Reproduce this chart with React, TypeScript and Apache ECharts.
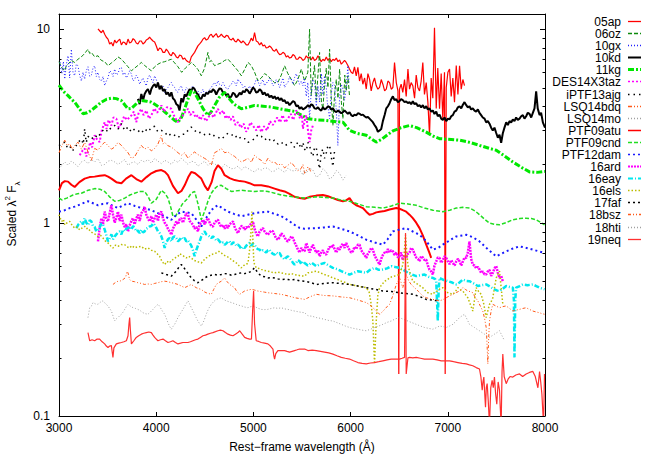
import React, { useEffect, useRef } from "react";
import * as echarts from "echarts";

// ---------------- data (wavelength in Å, scaled flux) ----------------
const names = ["05ap", "06oz", "10gx", "10kd", "11kg", "DES14X3taz", "iPTF13ajg", "LSQ14bdq", "LSQ14mo", "PTF09atu", "PTF09cnd", "PTF12dam", "16ard", "16eay", "16els", "17faf", "18bsz", "18hti", "19neq"];
const xTicks = [3000, 4000, 5000, 6000, 7000, 8000];
const yMajorTicks = [0.1, 1, 10];
const yMajorLabels = ["0.1", "1", "10"];
const yMinorTicks = [0.2, 0.3, 0.4, 0.5, 0.6, 0.7, 0.8, 0.9, 2, 3, 4, 5, 6, 7, 8, 9];

const d05ap = [[3401,10.05],[3420,9.8],[3436,9.6],[3453,9.9],[3470,9.43],[3487,9.1],[3504,8.9],[3521,8.4],[3539,8.54],[3556,8.2],[3573,8.8],[3590,8.5],[3607,8.71],[3625,8.9],[3642,8.3],[3659,8.6],[3676,8.54],[3693,8.3],[3710,8.9],[3727,8.5],[3745,8.6],[3762,8.95],[3778,8.81],[3795,8.5],[3812,8.4],[3830,8.7],[3847,8.7],[3864,8.4],[3881,8.54],[3898,8.8],[3915,8.9],[3932,9.1],[3950,8.88],[3967,8.7],[3984,8.6],[4001,8.2],[4018,7.75],[4035,8.0],[4053,7.9],[4070,7.6],[4087,7.59],[4104,7.9],[4121,7.7],[4139,7.4],[4156,7.3],[4172,7.6],[4190,7.44],[4207,7.2],[4224,7.1],[4241,7.35],[4259,7.3],[4275,7.01],[4293,7.1],[4310,6.9],[4327,6.8],[4344,6.74],[4361,7.2],[4378,7.4],[4395,7.6],[4412,7.9],[4429,8.21],[4447,8.4],[4464,8.6],[4481,8.9],[4498,9.06],[4515,8.8],[4532,8.9],[4550,9.3],[4567,9.43],[4584,9.1],[4601,9.3],[4618,9.5],[4635,9.1],[4652,9.2],[4670,9.43],[4687,9.2],[4704,9.06],[4721,9.3],[4738,9.25],[4755,8.9],[4773,8.8],[4790,9.0],[4807,8.71],[4824,8.6],[4841,8.9],[4859,8.7],[4876,8.5],[4893,8.7],[4910,8.54],[4927,8.3],[4944,8.3],[4961,8.6],[4978,9.0],[4995,8.7],[5012,9.6],[5029,8.7],[5046,8.6],[5064,8.3],[5081,8.54],[5098,8.2],[5115,8.3],[5132,8.0],[5149,8.05],[5166,8.2],[5184,8.05],[5201,7.8],[5218,7.7],[5235,7.9],[5252,7.6],[5270,7.4],[5287,7.44],[5304,7.6],[5321,7.5],[5338,7.2],[5355,7.3],[5372,7.1],[5390,7.16],[5407,7.4],[5424,7.3],[5441,7.0],[5458,7.01],[5475,7.2],[5493,7.1],[5510,6.9],[5527,7.01],[5544,7.3],[5561,7.1],[5578,7.16],[5595,6.95],[5612,7.2],[5629,6.9],[5647,7.0],[5664,7.3],[5681,7.05],[5698,6.8],[5715,7.0],[5732,6.88],[5750,7.2],[5767,6.9],[5784,7.1],[5801,6.8],[5818,7.0],[5835,6.9],[5853,7.1],[5870,6.8],[5887,6.95],[5904,6.6],[5921,6.74],[5938,6.9],[5955,6.74],[5972,6.5],[5989,6.23],[6006,6.0],[6023,5.9],[6040,6.4],[6058,5.75],[6075,6.35],[6092,5.4],[6109,5.9],[6126,5.2],[6144,5.6],[6161,4.91],[6178,5.9],[6195,5.53],[6212,4.8],[6229,5.3],[6246,5.6],[6264,5.1],[6281,4.9],[6298,5.01],[6315,5.5],[6332,5.2],[6350,4.8],[6367,4.9],[6384,5.4],[6401,5.3],[6418,4.9],[6435,5.0],[6452,6.74],[6470,5.3],[6487,4.8],[6496,0.165],[6503,4.9],[6520,5.2],[6537,4.72],[6555,5.5],[6572,4.5],[6590,6.23],[6606,4.9],[6623,5.3],[6640,5.11],[6658,4.4],[6675,5.8],[6692,5.0],[6709,4.8],[6726,5.4],[6743,6.74],[6760,4.6],[6778,5.3],[6795,4.2],[6812,2.83],[6829,5.6],[6846,4.4],[6863,10.2],[6881,3.9],[6897,6.3],[6915,3.88],[6932,5.9],[6949,3.4],[6966,6.0],[6973,0.165],[6984,5.0],[7001,6.0],[7018,6.23],[7035,4.5],[7052,5.6],[7069,4.2],[7087,6.5],[7104,4.6],[7121,6.48],[7138,4.9],[7155,5.5],[7172,5.11]];

const d06oz = [[3000,6.8],[3030,6.3],[3059,6.1],[3076,6.5],[3093,6.6],[3127,6.9],[3161,6.74],[3195,7.0],[3230,7.2],[3264,7.5],[3298,7.89],[3316,7.5],[3333,7.6],[3367,7.2],[3401,7.3],[3436,6.9],[3470,6.8],[3504,6.48],[3539,6.7],[3573,6.9],[3607,7.2],[3642,7.01],[3676,6.7],[3710,6.4],[3745,6.1],[3778,6.3],[3812,6.5],[3847,6.74],[3881,6.5],[3915,6.3],[3950,6.1],[3984,6.4],[4018,6.6],[4053,6.74],[4087,6.8],[4121,6.9],[4156,7.01],[4190,6.7],[4224,6.4],[4262,5.99],[4300,6.3],[4330,6.5],[4361,6.74],[4395,6.5],[4429,6.2],[4464,5.75],[4498,6.3],[4532,7.59],[4550,6.8],[4567,6.9],[4601,6.48],[4635,6.6],[4670,6.7],[4704,6.9],[4738,7.01],[4773,6.7],[4807,6.4],[4841,6.1],[4876,5.75],[4910,6.2],[4944,6.74],[4978,6.5],[5012,6.0],[5046,5.42],[5081,5.6],[5115,5.9],[5149,5.75],[5184,5.5],[5218,5.3],[5252,5.31],[5287,5.8],[5321,6.48],[5355,5.9],[5390,5.5],[5424,5.11],[5458,5.5],[5493,6.23],[5527,5.4],[5560,6.0],[5578,10.0],[5595,4.54],[5612,5.6],[5629,6.5],[5647,4.3],[5664,5.8],[5681,7.59],[5700,4.2],[5715,3.88],[5732,5.2],[5750,6.3],[5767,5.0],[5784,7.89],[5800,4.5],[5818,3.18],[5835,4.6],[5853,5.5],[5870,4.4],[5887,6.23],[5905,4.2],[5921,3.45],[5940,5.8],[5955,4.8],[5972,5.75],[5989,4.5]];

const d10gx = [[3007,7.01],[3020,6.2],[3030,5.9],[3045,6.8],[3059,5.53],[3076,6.6],[3093,7.3],[3110,5.6],[3127,7.89],[3144,6.0],[3161,5.75],[3178,6.6],[3195,6.48],[3212,5.8],[3230,5.4],[3247,6.0],[3264,5.53],[3281,6.1],[3298,6.4],[3316,5.7],[3333,5.8],[3350,6.3],[3367,6.48],[3384,5.7],[3401,5.99],[3418,5.5],[3436,5.4],[3453,5.7],[3470,5.11],[3487,5.4],[3504,5.6],[3521,6.1],[3539,6.0],[3556,5.7],[3573,6.23],[3590,5.8],[3607,5.9],[3625,6.3],[3642,6.35],[3659,5.8],[3676,6.0],[3693,5.6],[3710,5.8],[3727,6.1],[3745,5.87],[3762,5.4],[3778,5.5],[3795,5.8],[3812,5.6],[3830,5.2],[3847,5.42],[3864,5.6],[3881,5.31],[3898,5.1],[3915,5.6],[3932,5.8],[3950,5.53],[3967,5.3],[3984,5.75],[4001,5.5],[4018,5.2],[4035,5.0],[4053,4.9],[4070,5.1],[4087,4.72],[4104,4.9],[4121,5.0],[4139,5.2],[4156,5.31],[4172,5.1],[4190,5.0],[4207,4.8],[4224,4.72],[4241,5.0],[4259,5.1],[4275,4.8],[4293,4.72],[4310,5.0],[4327,4.9],[4344,4.7],[4361,5.0],[4378,5.1],[4395,4.91],[4412,4.7],[4429,4.8],[4447,4.6],[4464,4.72],[4481,4.9],[4498,4.6],[4515,4.75],[4532,4.72],[4550,4.9],[4567,5.0],[4584,5.2],[4601,5.3],[4618,5.1],[4635,5.42],[4652,5.2],[4670,5.1],[4687,5.3],[4704,5.11],[4721,4.95],[4738,4.9],[4755,5.1],[4773,5.2],[4790,5.4],[4807,5.31],[4824,5.1],[4841,5.53],[4859,5.3],[4876,5.3],[4893,5.0],[4910,5.1],[4927,4.8],[4944,4.91],[4961,5.1],[4978,4.8],[4995,5.0],[5012,5.2],[5029,5.5],[5046,5.42],[5064,5.1],[5081,5.3],[5098,5.5],[5115,5.1],[5132,5.3],[5149,5.31],[5166,5.6],[5184,5.42],[5201,5.1],[5218,5.2],[5235,5.5],[5252,5.3],[5270,5.0],[5287,5.31],[5304,5.6],[5321,5.0],[5338,5.2],[5355,5.3],[5372,5.7],[5390,5.53],[5407,5.2],[5424,5.64],[5441,5.9],[5458,5.5],[5475,5.2],[5493,5.4],[5509,5.11],[5525,5.6],[5544,4.5],[5560,5.3],[5578,3.45],[5595,4.8],[5612,5.5],[5629,5.31],[5647,4.0],[5664,5.1],[5681,4.2],[5700,5.9],[5715,4.6],[5732,5.75],[5750,5.0],[5760,4.2],[5784,3.45],[5800,4.6],[5818,5.3],[5835,5.11],[5853,3.8],[5869,2.51],[5887,4.5],[5904,5.2],[5921,4.91],[5938,4.3],[5955,5.0],[5972,6.48],[5985,5.2]];

const d10kd = [[3812,4.37],[3830,4.1],[3847,4.63],[3865,4.3],[3881,4.63],[3898,4.8],[3915,4.91],[3935,4.6],[3950,4.91],[3967,5.1],[3984,5.2],[4001,5.0],[4018,5.31],[4035,4.9],[4053,5.11],[4070,4.8],[4087,4.9],[4104,4.6],[4121,4.72],[4139,4.5],[4156,4.72],[4172,4.4],[4190,4.3],[4207,4.1],[4224,4.04],[4240,3.8],[4259,4.4],[4275,4.2],[4293,4.6],[4310,4.5],[4327,4.72],[4344,4.9],[4361,4.8],[4378,5.0],[4395,4.91],[4412,4.7],[4429,4.6],[4447,4.4],[4464,4.37],[4481,4.6],[4498,4.5],[4515,4.7],[4532,4.63],[4550,4.8],[4567,4.72],[4584,4.9],[4601,4.81],[4618,4.6],[4635,4.8],[4652,4.95],[4670,4.91],[4687,4.7],[4704,4.72],[4721,4.55],[4738,4.63],[4755,4.4],[4773,4.5],[4790,4.7],[4807,4.63],[4824,4.45],[4841,4.54],[4859,4.7],[4876,4.6],[4893,4.8],[4910,4.72],[4927,4.9],[4944,4.81],[4961,4.65],[4978,4.8],[4995,5.0],[5012,4.91],[5029,4.7],[5046,4.75],[5064,4.9],[5081,4.81],[5098,4.6],[5115,4.72],[5132,4.55],[5149,4.63],[5166,4.45],[5184,4.54],[5201,4.4],[5218,4.5],[5235,4.35],[5252,4.45],[5270,4.3],[5287,4.4],[5304,4.25],[5321,4.3],[5338,4.15],[5355,4.2],[5372,4.05],[5390,4.15],[5407,4.25],[5424,4.2],[5441,4.0],[5458,4.04],[5475,3.88],[5493,3.96],[5510,3.85],[5527,3.9],[5544,3.96],[5561,4.05],[5578,3.96],[5595,4.1],[5612,4.04],[5629,3.9],[5647,3.88],[5664,3.95],[5681,3.85],[5698,3.8],[5715,3.96],[5732,3.85],[5750,3.9],[5767,4.0],[5784,3.96],[5801,3.85],[5818,3.9],[5835,3.78],[5853,3.73],[5870,3.8],[5887,3.75],[5904,3.68],[5921,3.73],[5938,3.8],[5955,3.73],[5972,3.65],[5989,3.73],[6006,3.6],[6023,3.55],[6040,3.62],[6058,3.59],[6075,3.68],[6092,3.66],[6109,3.6],[6126,3.62],[6144,3.55],[6161,3.5],[6178,3.52],[6195,3.45],[6212,3.38],[6229,3.31],[6246,3.2],[6264,3.1],[6281,2.95],[6298,3.0],[6315,3.05],[6332,3.35],[6350,3.6],[6367,3.9],[6384,4.0],[6401,4.15],[6418,4.35],[6435,4.5],[6452,4.3],[6470,4.35],[6487,4.2],[6503,4.25],[6520,4.35],[6537,4.3],[6555,4.2],[6572,4.24],[6589,4.15],[6606,4.2],[6623,4.1],[6640,4.24],[6658,4.1],[6675,4.15],[6692,4.0],[6709,4.05],[6726,3.95],[6743,4.05],[6760,3.9],[6778,4.0],[6795,3.85],[6812,3.9],[6829,3.75],[6846,3.8],[6863,3.65],[6881,3.75],[6897,3.55],[6915,3.62],[6932,3.45],[6949,3.4],[6966,3.5],[6984,3.35],[7001,3.45],[7018,3.42],[7035,3.55],[7052,3.6],[7069,3.75],[7087,3.8],[7104,3.95],[7121,4.0],[7138,3.9],[7155,4.07],[7172,4.2],[7190,4.05],[7206,3.95],[7223,4.0],[7240,3.85],[7257,3.9],[7275,3.8],[7292,3.75],[7309,3.85],[7326,3.7],[7343,3.6],[7360,3.5],[7378,3.45],[7395,3.3],[7412,3.35],[7429,3.25],[7446,3.1],[7463,3.0],[7480,3.1],[7498,2.91],[7515,2.75],[7532,2.85],[7549,2.59],[7566,2.9],[7583,3.1],[7601,3.3],[7618,3.2],[7635,3.35],[7652,3.3],[7669,3.42],[7686,3.35],[7703,3.5],[7720,3.4],[7738,3.45],[7755,3.55],[7772,3.6],[7789,3.45],[7806,3.55],[7823,3.7],[7841,3.65],[7858,3.5],[7875,3.7],[7892,3.9],[7909,4.77],[7925,3.9],[7944,3.6],[7960,3.7],[7978,3.3],[8000,3.1]];

const d11kg = [[3000,5.15],[3030,4.9],[3060,4.7],[3093,4.54],[3127,4.35],[3161,4.2],[3200,3.95],[3247,3.66],[3290,3.7],[3333,3.81],[3385,4.0],[3436,4.2],[3490,4.35],[3539,4.4],[3590,4.38],[3642,4.28],[3680,4.05],[3710,3.88],[3745,3.9],[3778,4.04],[3812,4.2],[3847,4.28],[3900,4.25],[3950,4.2],[4000,4.05],[4053,3.88],[4105,3.68],[4156,3.5],[4190,3.38],[4224,3.31],[4260,3.5],[4293,3.88],[4330,4.4],[4361,4.81],[4395,4.7],[4429,4.37],[4480,3.9],[4532,3.59],[4567,3.75],[4601,4.04],[4650,4.45],[4704,4.72],[4738,4.45],[4800,4.1],[4876,3.88],[4944,3.95],[5012,4.04],[5100,4.0],[5184,3.96],[5270,3.88],[5355,3.81],[5424,3.76],[5493,3.6],[5560,3.45],[5650,3.4],[5750,3.38],[5850,3.33],[5921,3.31],[5989,3.0],[6060,2.9],[6161,2.83],[6210,2.72],[6264,2.61],[6320,2.7],[6380,2.85],[6435,2.98],[6520,3.1],[6606,3.18],[6680,3.1],[6778,2.94],[6850,2.8],[6915,2.72],[7000,2.7],[7121,2.67],[7230,2.6],[7326,2.51],[7429,2.42],[7498,2.37],[7580,2.22],[7669,2.06],[7760,1.93],[7841,1.83],[7920,1.82],[8000,1.84]];

const dDES14X3taz = [[3213,2.23],[3240,2.35],[3264,2.42],[3281,2.2],[3298,2.32],[3320,2.6],[3340,2.45],[3367,2.83],[3390,2.7],[3418,2.61],[3440,3.0],[3470,3.31],[3490,3.05],[3510,3.4],[3539,3.18],[3560,3.5],[3590,3.45],[3615,3.1],[3642,3.25],[3670,3.55],[3700,3.4],[3745,3.59],[3770,3.75],[3795,3.31],[3820,3.7],[3847,3.88],[3870,3.6],[3900,3.8],[3925,3.45],[3950,3.59],[3980,3.9],[4010,3.7],[4053,4.04],[4080,3.75],[4110,3.95],[4156,3.88],[4180,3.6],[4200,3.45],[4224,3.31],[4250,3.5],[4275,3.59],[4300,3.75],[4327,3.88],[4350,3.6],[4380,3.75],[4405,3.5],[4429,3.59],[4455,3.4],[4480,3.6],[4510,3.35],[4532,3.45],[4560,3.7],[4590,3.5],[4635,3.88],[4660,3.65],[4690,3.8],[4715,3.45],[4738,3.59],[4765,3.4],[4790,3.55],[4815,3.2],[4841,3.31],[4870,3.1],[4900,3.25],[4925,2.95],[4944,3.06],[4970,3.3],[5000,3.15],[5030,3.0],[5055,3.2],[5081,2.94],[5110,3.15],[5140,3.0],[5170,3.35],[5200,3.2],[5218,3.31],[5245,3.5],[5275,3.3],[5300,3.6],[5330,3.3],[5355,3.45],[5385,3.65],[5410,3.4],[5440,3.8],[5458,3.73],[5480,3.45],[5500,3.6],[5509,3.06],[5530,3.4],[5544,3.6],[5565,2.9],[5578,2.61],[5595,3.0],[5612,3.18]];

const diPTF13ajg = [[3000,2.5],[3030,2.56],[3059,2.61],[3085,2.45],[3110,2.5],[3135,2.35],[3161,2.42],[3195,2.6],[3230,2.7],[3250,2.55],[3264,3.06],[3280,2.6],[3298,2.8],[3333,2.7],[3367,2.83],[3400,2.75],[3436,2.95],[3470,3.06],[3505,2.95],[3539,3.12],[3573,3.18],[3607,3.05],[3642,3.25],[3676,3.0],[3710,3.12],[3745,2.94],[3778,3.05],[3812,3.0],[3847,2.9],[3881,3.06],[3915,2.95],[3950,3.1],[3984,3.15],[4018,2.95],[4053,3.0],[4087,2.94],[4121,2.8],[4156,2.89],[4190,2.83],[4224,2.75],[4259,2.86],[4293,2.87],[4327,3.0],[4361,3.12],[4395,3.0],[4429,2.9],[4464,2.94],[4498,2.85],[4532,2.83],[4567,2.9],[4601,2.8],[4635,2.77],[4670,2.7],[4704,2.8],[4738,2.9],[4773,2.87],[4807,2.75],[4841,2.83],[4876,2.7],[4910,2.72],[4944,2.6],[4978,2.65],[5012,2.72],[5046,2.85],[5081,2.8],[5115,2.68],[5149,2.75],[5184,2.62],[5218,2.67],[5252,2.55],[5287,2.61],[5321,2.5],[5355,2.55],[5390,2.6],[5424,2.45],[5458,2.61],[5493,2.42],[5509,2.6],[5527,2.4],[5544,2.35],[5561,2.6],[5578,2.5],[5595,2.3],[5612,2.2],[5629,2.45],[5647,2.45],[5664,2.1],[5681,1.9],[5698,2.3],[5715,2.4],[5732,2.15],[5750,2.3],[5767,2.5],[5784,2.5],[5801,2.2],[5818,1.95],[5835,2.35],[5853,2.3]];

const dLSQ14bdq = [[3000,2.3],[3030,2.5],[3059,2.67],[3085,2.5],[3110,2.56],[3135,2.4],[3161,2.5],[3195,2.61],[3230,2.4],[3264,2.6],[3298,2.32],[3333,2.1],[3367,2.42],[3401,2.37],[3436,2.5],[3470,2.61],[3504,2.5],[3539,2.4],[3573,2.46],[3607,2.6],[3642,2.51],[3676,2.4],[3710,2.3],[3745,2.15],[3778,2.19],[3812,2.35],[3847,2.51],[3881,2.4],[3915,2.46],[3950,2.35],[3984,2.42],[4018,2.55],[4053,2.83],[4070,2.55],[4087,2.6],[4121,2.5],[4156,2.46],[4190,2.38],[4224,2.3],[4259,2.23],[4293,2.3],[4327,2.15],[4361,2.25],[4395,2.32],[4429,2.25],[4464,2.2],[4498,2.15],[4532,2.1],[4567,1.98],[4601,2.3],[4635,2.35],[4670,2.42],[4704,2.3],[4738,2.32],[4773,2.25],[4807,2.2],[4841,2.12],[4876,2.06],[4910,2.1],[4944,2.15],[4978,2.05],[5012,2.23],[5046,2.15],[5081,2.1],[5115,2.0],[5149,2.15],[5184,2.05],[5218,2.06],[5252,1.98],[5287,2.02],[5321,1.92],[5355,1.98],[5390,2.05],[5424,1.95],[5458,1.85],[5493,1.91],[5510,2.0],[5527,1.8],[5544,1.85],[5561,1.95],[5578,1.9],[5595,1.8]];

const dLSQ14mo = [[3000,1.9],[3030,1.98],[3059,2.06],[3093,1.98],[3127,2.08],[3161,2.02],[3195,1.95],[3230,2.06],[3264,2.1],[3298,2.02],[3333,2.12],[3367,2.06],[3401,2.15],[3436,1.98],[3470,2.0],[3504,2.08],[3539,2.1],[3573,2.06],[3607,2.0],[3642,2.06],[3676,2.12],[3710,1.98],[3745,2.04],[3778,2.06],[3812,2.0],[3847,2.1],[3881,2.06],[3915,2.12],[3950,2.03],[3984,2.15],[4018,2.08],[4053,2.02],[4087,2.1],[4121,2.06],[4156,2.0],[4190,2.1],[4224,2.05],[4259,2.15],[4293,2.08],[4327,2.0],[4361,2.08],[4395,2.06],[4429,1.96],[4464,2.02],[4498,2.08],[4532,1.98],[4567,2.04],[4601,2.02],[4635,1.95],[4670,1.91],[4704,2.0],[4738,1.95],[4773,1.9],[4807,1.91],[4841,1.96],[4876,1.87],[4910,1.95],[4944,1.91],[4978,1.86],[5012,1.83],[5046,1.9],[5081,1.87],[5115,1.92],[5149,1.91],[5184,1.84],[5218,1.85],[5252,1.92],[5287,1.87],[5321,1.82],[5355,1.91],[5390,1.86],[5424,1.85],[5458,1.9],[5493,1.83],[5510,1.76],[5527,1.86],[5544,1.8],[5578,1.92],[5612,1.87],[5647,1.72],[5681,1.76],[5715,1.9],[5750,1.83],[5784,1.68],[5818,1.73],[5853,1.86],[5887,1.8],[5921,1.66],[5955,1.76]];

const dPTF09atu = [[3000,1.47],[3030,1.6],[3060,1.64],[3093,1.63],[3127,1.57],[3161,1.53],[3210,1.62],[3264,1.69],[3315,1.72],[3367,1.73],[3420,1.75],[3470,1.76],[3505,1.73],[3539,1.69],[3590,1.62],[3642,1.6],[3690,1.69],[3745,1.76],[3795,1.68],[3847,1.63],[3900,1.72],[3950,1.8],[4000,1.85],[4053,1.87],[4090,1.83],[4121,1.76],[4172,1.55],[4224,1.42],[4260,1.46],[4293,1.56],[4330,1.72],[4361,1.83],[4400,1.8],[4464,1.69],[4500,1.55],[4532,1.47],[4570,1.62],[4600,1.85],[4635,1.98],[4670,1.9],[4704,1.76],[4755,1.7],[4807,1.66],[4860,1.64],[4910,1.63],[4960,1.6],[5012,1.56],[5081,1.56],[5149,1.54],[5218,1.5],[5270,1.47],[5321,1.45],[5372,1.41],[5424,1.36],[5475,1.34],[5527,1.33],[5578,1.36],[5647,1.38],[5715,1.39],[5767,1.37],[5818,1.34],[5870,1.31],[5921,1.29],[5950,1.3],[5989,1.34],[6020,1.27],[6058,1.23],[6092,1.21],[6126,1.19],[6161,1.14],[6195,1.1],[6229,1.11],[6264,1.13],[6298,1.14],[6350,1.15],[6401,1.17],[6470,1.19],[6503,1.18],[6537,1.16],[6572,1.14],[6606,1.1],[6640,1.055],[6675,1.0],[6709,0.937],[6743,0.86],[6778,0.769],[6810,0.7],[6829,0.657]];

const dPTF09cnd = [[3000,1.34],[3030,1.31],[3080,1.34],[3144,1.39],[3190,1.41],[3230,1.42],[3300,1.47],[3367,1.5],[3420,1.49],[3470,1.45],[3520,1.36],[3573,1.29],[3620,1.3],[3676,1.34],[3730,1.39],[3778,1.42],[3830,1.45],[3881,1.45],[3915,1.37],[3950,1.26],[4000,1.32],[4053,1.47],[4090,1.42],[4121,1.34],[4150,1.2],[4172,1.08],[4200,1.08],[4224,1.14],[4270,1.25],[4327,1.34],[4360,1.42],[4395,1.45],[4430,1.25],[4464,1.035],[4500,1.15],[4532,1.29],[4567,1.42],[4601,1.5],[4635,1.55],[4670,1.56],[4720,1.5],[4773,1.45],[4820,1.46],[4876,1.47],[4944,1.46],[5012,1.45],[5080,1.46],[5149,1.45],[5220,1.42],[5287,1.39],[5355,1.37],[5424,1.36],[5475,1.35],[5527,1.34],[5590,1.35],[5647,1.36],[5730,1.35],[5818,1.34],[5900,1.31],[5989,1.29],[6075,1.25],[6161,1.21],[6250,1.2],[6332,1.19],[6420,1.22],[6503,1.26],[6590,1.25],[6675,1.23],[6760,1.19],[6846,1.16],[6949,1.14],[7020,1.16],[7087,1.19],[7155,1.2],[7223,1.19],[7280,1.15],[7326,1.1],[7380,1.04],[7429,0.994],[7480,0.98],[7532,0.974],[7600,1.0],[7669,1.035],[7740,1.05],[7806,1.055],[7860,1.05],[7909,1.035],[7960,1.0],[7995,0.974]];

const dPTF12dam = [[3000,1.14],[3059,1.16],[3110,1.19],[3161,1.21],[3230,1.25],[3298,1.29],[3350,1.26],[3401,1.23],[3450,1.25],[3504,1.26],[3555,1.22],[3607,1.19],[3660,1.23],[3710,1.26],[3780,1.22],[3847,1.19],[3900,1.18],[3950,1.16],[4000,1.13],[4053,1.1],[4100,1.07],[4156,1.035],[4210,1.1],[4259,1.14],[4310,1.13],[4361,1.12],[4410,1.04],[4464,0.956],[4510,1.05],[4567,1.16],[4600,1.2],[4635,1.23],[4690,1.18],[4738,1.14],[4800,1.11],[4876,1.08],[4944,1.1],[5012,1.12],[5080,1.13],[5149,1.14],[5220,1.11],[5287,1.08],[5355,1.03],[5424,0.974],[5475,0.94],[5527,0.93],[5590,0.935],[5647,0.937],[5730,0.945],[5818,0.956],[5900,0.93],[5989,0.901],[6075,0.86],[6161,0.816],[6250,0.79],[6332,0.769],[6380,0.82],[6435,0.901],[6500,0.92],[6572,0.937],[6640,0.9],[6709,0.866],[6780,0.8],[6846,0.725],[6900,0.74],[6949,0.769],[7020,0.81],[7087,0.849],[7190,0.866],[7260,0.84],[7326,0.8],[7410,0.73],[7498,0.67],[7550,0.69],[7601,0.711],[7670,0.735],[7738,0.754],[7810,0.74],[7875,0.725],[7940,0.71],[7995,0.697]];

const d16ard = [[3401,0.8],[3420,0.95],[3436,1.055],[3453,0.98],[3470,1.14],[3487,1.05],[3504,1.015],[3521,1.12],[3539,1.23],[3556,1.1],[3573,1.0],[3590,1.055],[3607,1.14],[3625,1.02],[3642,1.1],[3659,1.0],[3676,0.95],[3693,0.98],[3710,0.901],[3727,0.97],[3745,1.02],[3760,1.055],[3778,0.98],[3795,1.05],[3812,1.1],[3830,1.02],[3847,1.12],[3864,1.15],[3881,1.21],[3898,1.1],[3915,1.05],[3932,1.015],[3950,1.08],[3967,1.0],[3984,1.055],[4001,1.1],[4018,1.02],[4035,1.12],[4053,1.14],[4070,1.05],[4087,1.0],[4104,0.974],[4121,0.93],[4139,0.9],[4156,0.866],[4172,0.93],[4190,0.97],[4207,1.015],[4224,0.98],[4241,1.04],[4259,1.055],[4275,1.0],[4293,1.06],[4310,1.12],[4327,1.1],[4344,1.02],[4361,1.0],[4378,0.974],[4395,0.93],[4412,0.95],[4429,0.901],[4447,0.98],[4464,1.0],[4481,1.035],[4498,0.98],[4515,1.02],[4532,1.055],[4550,1.0],[4567,0.96],[4584,0.956],[4601,1.0],[4618,1.02],[4635,1.035],[4652,0.98],[4670,0.95],[4687,0.974],[4704,0.93],[4721,0.97],[4738,0.937],[4755,0.98],[4773,1.0],[4790,1.015],[4807,0.95],[4824,0.91],[4841,0.883],[4859,0.93],[4876,0.96],[4893,0.956],[4910,0.92],[4927,0.95],[4944,0.937],[4961,0.97],[4978,0.99],[4995,1.015],[5012,0.93],[5029,0.88],[5046,0.849],[5064,0.9],[5081,0.92],[5098,0.937],[5115,0.9],[5132,0.88],[5149,0.866],[5166,0.89],[5184,0.91],[5201,0.901],[5218,0.86],[5235,0.83],[5252,0.816],[5270,0.84],[5287,0.88],[5304,0.866],[5321,0.84],[5338,0.81],[5355,0.8],[5372,0.82],[5390,0.85],[5407,0.832],[5424,0.79],[5441,0.76],[5458,0.725],[5475,0.7],[5493,0.74],[5510,0.72],[5527,0.711],[5544,0.785],[5561,0.74],[5578,0.7],[5595,0.74],[5612,0.769],[5629,0.73],[5647,0.7],[5664,0.72],[5681,0.67],[5698,0.7],[5715,0.72],[5732,0.69],[5750,0.683],[5767,0.72],[5784,0.75],[5801,0.74],[5818,0.769],[5835,0.73],[5853,0.7],[5870,0.74],[5887,0.725],[5904,0.76],[5921,0.78],[5938,0.74],[5955,0.785],[5972,0.75],[5989,0.72],[6006,0.7],[6023,0.711],[6040,0.75],[6058,0.73],[6075,0.77],[6092,0.769],[6109,0.72],[6126,0.7],[6144,0.68],[6161,0.657],[6178,0.69],[6195,0.71],[6212,0.74],[6229,0.725],[6246,0.68],[6264,0.65],[6281,0.63],[6298,0.607],[6315,0.65],[6332,0.68],[6350,0.7],[6367,0.697],[6384,0.73],[6401,0.7],[6418,0.72],[6435,0.711],[6452,0.68],[6470,0.7],[6487,0.66],[6503,0.67],[6520,0.7],[6537,0.64],[6555,0.68],[6572,0.657],[6589,0.69],[6606,0.7],[6623,0.74],[6640,0.725],[6658,0.69],[6675,0.66],[6692,0.65],[6709,0.632],[6726,0.67],[6743,0.66],[6760,0.64],[6778,0.644],[6795,0.6],[6812,0.57],[6829,0.56],[6846,0.539],[6863,0.6],[6881,0.63],[6897,0.66],[6915,0.657],[6932,0.62],[6949,0.64],[6966,0.67],[6984,0.657],[7001,0.63],[7018,0.61],[7035,0.64],[7052,0.619],[7069,0.6],[7087,0.63],[7104,0.65],[7121,0.632],[7138,0.6],[7155,0.63],[7172,0.66],[7190,0.657],[7206,0.7],[7223,0.8],[7240,0.65],[7257,0.607],[7275,0.6],[7292,0.58],[7309,0.59],[7326,0.573],[7343,0.55],[7360,0.56],[7378,0.54],[7395,0.539],[7412,0.56],[7429,0.57],[7446,0.53],[7463,0.55],[7480,0.58],[7498,0.596],[7515,0.55],[7532,0.518],[7549,0.53],[7566,0.498]];

const d16eay = [[3179,0.937],[3200,0.98],[3230,1.015],[3247,0.98],[3264,1.055],[3281,1.0],[3300,0.97],[3316,1.03],[3333,1.015],[3350,0.96],[3367,0.95],[3384,0.9],[3401,0.918],[3420,0.95],[3436,0.99],[3453,0.974],[3470,0.92],[3487,0.86],[3504,0.8],[3521,0.83],[3539,0.87],[3556,0.82],[3573,0.849],[3590,0.87],[3607,0.89],[3625,0.901],[3642,0.87],[3659,0.92],[3676,0.901],[3693,0.93],[3710,0.94],[3727,0.956],[3745,0.92],[3762,0.96],[3778,0.937],[3795,0.9],[3812,0.91],[3830,0.883],[3847,0.92],[3864,0.89],[3881,0.901],[3898,0.93],[3915,0.94],[3932,0.956],[3950,0.96],[3967,0.99],[3984,0.974],[4001,0.94],[4018,0.9],[4035,0.883],[4053,0.85],[4070,0.8],[4087,0.74],[4104,0.79],[4121,0.82],[4139,0.832],[4156,0.8],[4172,0.84],[4190,0.849],[4207,0.83],[4224,0.8],[4241,0.816],[4259,0.84],[4275,0.82],[4293,0.832],[4310,0.8],[4327,0.81],[4344,0.785],[4361,0.76],[4378,0.72],[4395,0.67],[4412,0.72],[4429,0.76],[4447,0.8],[4464,0.85],[4481,0.88],[4498,0.901],[4515,0.87],[4532,0.86],[4550,0.849],[4567,0.83],[4584,0.85],[4601,0.832],[4618,0.81],[4635,0.82],[4652,0.8],[4670,0.78],[4687,0.79],[4704,0.769],[4721,0.78],[4738,0.8],[4755,0.8],[4773,0.77],[4790,0.79],[4807,0.785],[4824,0.76],[4841,0.77],[4859,0.754],[4876,0.73],[4893,0.75],[4910,0.74],[4927,0.76],[4944,0.78],[4961,0.785],[4978,0.76],[4995,0.78],[5012,0.769],[5029,0.74],[5046,0.73],[5064,0.725],[5081,0.71],[5098,0.72],[5115,0.711],[5132,0.7],[5149,0.72],[5166,0.725],[5184,0.7],[5201,0.69],[5218,0.683],[5235,0.7],[5252,0.69],[5270,0.697],[5287,0.67],[5304,0.66],[5321,0.644],[5338,0.66],[5355,0.67],[5372,0.657],[5390,0.64],[5407,0.62],[5424,0.607],[5441,0.62],[5458,0.64],[5475,0.632],[5493,0.61],[5510,0.63],[5527,0.619],[5560,0.6],[5600,0.62],[5647,0.596],[5690,0.61],[5732,0.619],[5775,0.6],[5818,0.584],[5860,0.575],[5904,0.561],[5945,0.55],[5989,0.539],[6030,0.55],[6075,0.561],[6120,0.555],[6161,0.55],[6200,0.57],[6246,0.584],[6290,0.57],[6332,0.573],[6375,0.58],[6418,0.596],[6460,0.59],[6503,0.584],[6545,0.57],[6589,0.55],[6630,0.54],[6675,0.529],[6718,0.535],[6760,0.539],[6803,0.525],[6846,0.518],[6870,0.51],[6881,0.498],[6897,0.31],[6906,0.45],[6915,0.518],[6960,0.505],[7001,0.498],[7045,0.49],[7087,0.479],[7120,0.49],[7155,0.508],[7190,0.5],[7223,0.498],[7265,0.485],[7309,0.47],[7350,0.475],[7395,0.479],[7440,0.465],[7480,0.452],[7510,0.445],[7532,0.443],[7565,0.455],[7601,0.47],[7635,0.465],[7669,0.461],[7680,0.4],[7686,0.201],[7694,0.4],[7703,0.461],[7740,0.47],[7772,0.479],[7820,0.475],[7875,0.479],[7910,0.47],[7944,0.461],[7995,0.452]];

const d16els = [[3000,1.1],[3015,1.05],[3030,1.015],[3045,1.04],[3059,0.974],[3085,1.0],[3110,1.015],[3135,0.97],[3161,0.937],[3187,0.95],[3213,0.918],[3240,0.94],[3264,0.956],[3281,0.93],[3298,0.937],[3325,0.9],[3350,0.883],[3375,0.87],[3401,0.849],[3427,0.86],[3453,0.832],[3480,0.8],[3504,0.785],[3530,0.76],[3555,0.74],[3580,0.765],[3607,0.754],[3640,0.77],[3676,0.769],[3700,0.75],[3727,0.74],[3750,0.76],[3778,0.74],[3810,0.75],[3847,0.754],[3880,0.73],[3915,0.74],[3950,0.72],[3984,0.711],[4010,0.69],[4035,0.67],[4060,0.63],[4087,0.607],[4110,0.63],[4139,0.619],[4155,0.64],[4172,0.644],[4200,0.66],[4224,0.67],[4240,0.69],[4259,0.683],[4285,0.67],[4310,0.657],[4335,0.67],[4361,0.657],[4385,0.64],[4412,0.632],[4440,0.625],[4464,0.619],[4490,0.64],[4515,0.657],[4540,0.67],[4567,0.683],[4590,0.69],[4618,0.697],[4645,0.71],[4670,0.697],[4695,0.68],[4721,0.67],[4748,0.66],[4773,0.644],[4800,0.63],[4824,0.619],[4850,0.6],[4876,0.584],[4900,0.6],[4927,0.607],[4945,0.62],[4961,0.725],[4975,0.9],[4985,1.14],[4995,0.8],[5005,0.62],[5029,0.584],[5055,0.58],[5081,0.573],[5115,0.565],[5149,0.561],[5184,0.555],[5218,0.55],[5252,0.555],[5287,0.55],[5320,0.545],[5355,0.539],[5390,0.545],[5424,0.539],[5458,0.535],[5493,0.53],[5527,0.529],[5561,0.55],[5605,0.555],[5647,0.561],[5690,0.55],[5732,0.539],[5775,0.53],[5818,0.518],[5860,0.51],[5904,0.498],[5945,0.49],[5989,0.479],[6030,0.475],[6075,0.47],[6118,0.465],[6161,0.461],[6190,0.44],[6212,0.378],[6229,0.31],[6246,0.186],[6256,0.25],[6264,0.31],[6280,0.42],[6298,0.461],[6325,0.48],[6350,0.498],[6375,0.505],[6401,0.518],[6425,0.525],[6452,0.529],[6478,0.535],[6503,0.539],[6520,0.57],[6537,0.607],[6552,0.7],[6565,0.866],[6578,0.7],[6589,0.607],[6610,0.55],[6640,0.498],[6665,0.49],[6692,0.479],[6718,0.47],[6743,0.461],[6770,0.445],[6795,0.434],[6820,0.43],[6846,0.426],[6870,0.44],[6897,0.443],[6920,0.455],[6949,0.461],[6975,0.445],[7001,0.434],[7025,0.43],[7052,0.426],[7078,0.44],[7104,0.461],[7130,0.45],[7155,0.443],[7180,0.425],[7206,0.409],[7230,0.38],[7257,0.349],[7275,0.4],[7292,0.461],[7318,0.44],[7343,0.426],[7370,0.38],[7395,0.323],[7412,0.35],[7429,0.378],[7446,0.39],[7463,0.409],[7480,0.46],[7498,0.518],[7515,0.54],[7532,0.561],[7549,0.461],[7566,0.378]];

const d17faf = [[4053,0.55],[4080,0.545],[4104,0.539],[4130,0.535],[4156,0.529],[4180,0.545],[4207,0.561],[4235,0.59],[4259,0.607],[4285,0.585],[4310,0.561],[4335,0.54],[4361,0.518],[4395,0.5],[4429,0.489],[4455,0.5],[4481,0.508],[4505,0.52],[4532,0.529],[4567,0.535],[4601,0.539],[4635,0.535],[4670,0.539],[4704,0.545],[4738,0.543],[4773,0.535],[4807,0.539],[4841,0.545],[4876,0.55],[4910,0.545],[4944,0.55],[4978,0.56],[5012,0.584],[5046,0.55],[5081,0.529],[5115,0.525],[5149,0.518],[5184,0.52],[5218,0.518],[5252,0.512],[5287,0.508],[5321,0.51],[5355,0.508],[5390,0.505],[5424,0.508],[5475,0.5],[5527,0.498],[5590,0.49],[5647,0.479],[5730,0.485],[5818,0.489],[5900,0.484],[5989,0.479],[6075,0.47],[6161,0.461],[6250,0.452],[6332,0.443],[6420,0.44],[6503,0.434],[6572,0.43],[6640,0.426],[6710,0.415],[6778,0.401],[6846,0.397],[6915,0.394]];

const d18bsz = [[3555,0.479],[3580,0.49],[3607,0.498],[3635,0.5],[3659,0.508],[3685,0.52],[3700,0.56],[3710,0.55],[3725,0.51],[3745,0.498],[3778,0.495],[3812,0.489],[3847,0.485],[3881,0.479],[3915,0.482],[3950,0.479],[3984,0.485],[4018,0.489],[4053,0.495],[4087,0.498],[4121,0.495],[4156,0.489],[4190,0.485],[4224,0.479],[4259,0.47],[4293,0.461],[4327,0.47],[4361,0.479],[4385,0.47],[4412,0.461],[4440,0.455],[4464,0.452],[4490,0.44],[4515,0.434],[4540,0.43],[4567,0.426],[4590,0.45],[4618,0.479],[4645,0.49],[4670,0.498],[4690,0.51],[4704,0.518],[4730,0.495],[4755,0.479],[4780,0.47],[4807,0.461],[4830,0.44],[4859,0.426],[4885,0.435],[4910,0.443],[4944,0.448],[4978,0.452],[5012,0.448],[5046,0.443],[5081,0.44],[5115,0.437],[5149,0.434],[5218,0.43],[5287,0.426],[5355,0.418],[5424,0.409],[5475,0.405],[5527,0.401],[5590,0.415],[5647,0.426],[5730,0.42],[5818,0.418],[5900,0.413],[5989,0.409],[6075,0.398],[6161,0.386],[6200,0.375],[6229,0.363],[6264,0.35],[6298,0.336],[6325,0.345],[6350,0.356],[6380,0.37],[6401,0.378],[6435,0.42],[6470,0.479],[6490,0.5],[6503,0.518],[6520,0.49],[6537,0.461],[6555,0.5],[6572,0.539],[6598,0.5],[6623,0.479],[6650,0.465],[6675,0.452],[6700,0.44],[6726,0.426],[6752,0.415],[6778,0.409],[6812,0.405],[6846,0.401],[6880,0.398],[6915,0.394],[6950,0.4],[6984,0.409],[7018,0.418],[7052,0.426],[7087,0.435],[7121,0.443],[7138,0.45],[7155,0.461],[7180,0.452],[7206,0.443],[7230,0.44],[7257,0.434],[7283,0.41],[7309,0.394],[7335,0.37],[7360,0.349],[7378,0.32],[7395,0.287],[7403,0.24],[7412,0.186],[7420,0.25],[7429,0.31],[7446,0.35],[7463,0.378],[7498,0.37],[7532,0.363],[7566,0.368],[7601,0.371],[7635,0.36],[7669,0.349],[7703,0.353],[7738,0.356],[7772,0.36],[7806,0.363],[7840,0.356],[7875,0.349],[7910,0.345],[7944,0.342],[7970,0.338],[7995,0.336]];

const d18hti = [[3298,0.323],[3316,0.363],[3333,0.37],[3350,0.386],[3375,0.38],[3401,0.378],[3427,0.388],[3453,0.394],[3480,0.38],[3504,0.371],[3520,0.36],[3539,0.349],[3555,0.33],[3573,0.31],[3590,0.318],[3607,0.323],[3625,0.33],[3642,0.336],[3660,0.345],[3676,0.356],[3693,0.368],[3710,0.378],[3735,0.37],[3762,0.363],[3787,0.36],[3812,0.356],[3838,0.35],[3864,0.342],[3890,0.338],[3915,0.336],[3940,0.345],[3967,0.356],[3992,0.368],[4018,0.378],[4035,0.37],[4053,0.356],[4070,0.345],[4087,0.336],[4104,0.32],[4121,0.304],[4139,0.29],[4156,0.281],[4172,0.29],[4190,0.298],[4207,0.31],[4224,0.323],[4250,0.34],[4275,0.356],[4300,0.375],[4327,0.394],[4344,0.38],[4361,0.363],[4378,0.35],[4395,0.336],[4412,0.322],[4429,0.31],[4447,0.3],[4464,0.292],[4490,0.31],[4515,0.336],[4540,0.36],[4567,0.378],[4590,0.39],[4618,0.401],[4645,0.405],[4670,0.409],[4695,0.4],[4721,0.394],[4748,0.39],[4773,0.386],[4800,0.382],[4824,0.378],[4850,0.374],[4876,0.371],[4910,0.366],[4944,0.363],[4975,0.368],[5002,0.371],[5040,0.362],[5081,0.356],[5115,0.355],[5149,0.356],[5184,0.36],[5218,0.363],[5252,0.36],[5287,0.363],[5321,0.358],[5355,0.356],[5390,0.352],[5424,0.349],[5475,0.345],[5527,0.342],[5561,0.33],[5605,0.328],[5647,0.323],[5690,0.32],[5732,0.316],[5775,0.312],[5818,0.31],[5860,0.304],[5904,0.298],[5945,0.292],[5989,0.287],[6030,0.284],[6075,0.281],[6118,0.278],[6161,0.276],[6205,0.281],[6246,0.287],[6290,0.292],[6332,0.298],[6375,0.305],[6418,0.31],[6460,0.318],[6503,0.323],[6545,0.316],[6589,0.31],[6630,0.304],[6675,0.298],[6718,0.292],[6760,0.287],[6803,0.284],[6846,0.281],[6880,0.286],[6915,0.292],[6950,0.29],[6984,0.287],[7018,0.292],[7052,0.298],[7087,0.31],[7121,0.323],[7148,0.33],[7172,0.336],[7200,0.315],[7223,0.298],[7250,0.292],[7275,0.287],[7300,0.281],[7326,0.276],[7352,0.27],[7378,0.265],[7404,0.26],[7429,0.255],[7455,0.26],[7480,0.265],[7506,0.27],[7532,0.276],[7558,0.26],[7583,0.245]];

const d19neq = [[3298,0.27],[3316,0.245],[3340,0.248],[3367,0.245],[3392,0.25],[3418,0.25],[3444,0.242],[3470,0.236],[3487,0.23],[3504,0.226],[3521,0.23],[3539,0.231],[3547,0.215],[3555,0.201],[3565,0.225],[3590,0.236],[3615,0.238],[3642,0.24],[3668,0.242],[3693,0.245],[3710,0.26],[3720,0.3],[3727,0.323],[3734,0.28],[3745,0.236],[3770,0.245],[3795,0.255],[3820,0.26],[3847,0.265],[3872,0.268],[3898,0.27],[3924,0.272],[3950,0.27],[3967,0.262],[3984,0.255],[4001,0.25],[4018,0.245],[4044,0.248],[4070,0.25],[4095,0.245],[4121,0.24],[4146,0.242],[4172,0.245],[4198,0.24],[4224,0.236],[4250,0.238],[4275,0.24],[4300,0.24],[4327,0.24],[4352,0.242],[4378,0.245],[4404,0.248],[4429,0.25],[4455,0.255],[4481,0.26],[4507,0.262],[4532,0.265],[4558,0.268],[4584,0.27],[4610,0.273],[4635,0.276],[4660,0.278],[4687,0.276],[4712,0.27],[4738,0.265],[4764,0.262],[4790,0.26],[4815,0.265],[4841,0.27],[4859,0.276],[4885,0.265],[4910,0.255],[4935,0.252],[4961,0.25],[4980,0.25],[4992,0.35],[5002,0.443],[5012,0.3],[5029,0.245],[5055,0.243],[5081,0.24],[5115,0.238],[5149,0.236],[5175,0.23],[5201,0.222],[5210,0.205],[5218,0.197],[5230,0.21],[5252,0.218],[5287,0.218],[5321,0.218],[5346,0.216],[5372,0.214],[5398,0.216],[5424,0.218],[5450,0.22],[5475,0.222],[5500,0.222],[5527,0.222],[5561,0.218],[5605,0.219],[5647,0.218],[5690,0.216],[5732,0.214],[5775,0.212],[5818,0.209],[5860,0.205],[5904,0.201],[5945,0.199],[5989,0.197],[6030,0.193],[6075,0.189],[6118,0.187],[6161,0.186],[6205,0.188],[6246,0.189],[6290,0.191],[6332,0.193],[6375,0.195],[6418,0.197],[6460,0.197],[6503,0.197],[6530,0.199],[6555,0.201],[6565,0.883],[6572,0.165],[6590,0.2],[6606,0.201],[6640,0.2],[6675,0.201],[6718,0.199],[6760,0.197],[6803,0.197],[6846,0.197],[6890,0.195],[6932,0.193],[6975,0.193],[7018,0.193],[7060,0.191],[7104,0.189],[7148,0.187],[7190,0.186],[7223,0.184],[7257,0.182],[7292,0.178],[7326,0.175],[7340,0.16],[7354,0.136],[7362,0.15],[7371,0.159],[7380,0.13],[7388,0.111],[7396,0.14],[7405,0.147],[7416,0.12],[7429,0.09],[7442,0.14],[7456,0.153],[7468,0.14],[7480,0.159],[7492,0.13],[7504,0.115],[7518,0.15],[7532,0.136],[7540,0.11],[7549,0.09],[7558,0.17],[7566,0.209],[7580,0.16],[7601,0.147],[7620,0.155],[7640,0.16],[7669,0.159],[7700,0.163],[7738,0.165],[7770,0.16],[7806,0.165],[7840,0.168],[7875,0.17],[7900,0.16],[7927,0.14],[7944,0.17],[7956,0.15],[7968,0.13],[7985,0.09],[7995,0.165]];

const datasets = [d05ap, d06oz, d10gx, d10kd, d11kg, dDES14X3taz, diPTF13ajg, dLSQ14bdq, dLSQ14mo, dPTF09atu, dPTF09cnd, dPTF12dam, d16ard, d16eay, d16els, d17faf, d18bsz, d18hti, d19neq];

// ---------------- styles ----------------
const colors = ["#ff0000", "#0c8a0c", "#2020ff", "#000000", "#00e800", "#ff00ff", "#000000", "#ff5a1a", "#a0a0a0", "#ff0000", "#22dd22", "#1a1aff", "#ff00ff", "#00e8ee", "#bcbc00", "#000000", "#ff5a1a", "#a0a0a0", "#ff3030"];
const widths = [1.2, 1, 1, 2, 3, 2, 1.5, 1, 1, 2, 1.5, 2, 2.5, 2.5, 1.5, 1.5, 1, 1, 1.2];
const legendWidths = [1.3, 1.3, 1.3, 2, 3, 1.5, 1.5, 1.3, 1.3, 1.5, 1.3, 1.5, 2, 2, 1.3, 1.5, 1.3, 1.3, 1.3];
const dashes: any[] = ["solid", [4, 2], [1, 2], "solid", [6, 2, 2, 2], [2, 2], [1.5, 4], [4, 2, 1, 2, 1, 2], [1, 2], "solid", [4, 2], [2, 3], [2, 1], [5, 2, 1, 2], [1.5, 2], [2, 3], [3, 2, 1, 2, 1, 2], [1, 2], "solid"];

const FONT = "'Liberation Sans', Arial, Helvetica, sans-serif";

export default function App() {
  const ref = useRef<HTMLDivElement>(null);
  useEffect(() => {
    if (!ref.current) return;
    const chart = echarts.init(ref.current, null, { renderer: "svg" });
    const option: any = {
      animation: false,
      backgroundColor: "#ffffff",
      textStyle: { fontFamily: FONT },
      grid: { left: 59, right: 109, top: 14, bottom: 39, containLabel: false },
      xAxis: [
        {
          type: "value", min: 3000, max: 8000, interval: 1000, position: "bottom",
          axisLine: { show: true, lineStyle: { color: "#000", width: 1 } },
          axisTick: { show: true, inside: true, length: 4, lineStyle: { color: "#000" } },
          axisLabel: { color: "#000", fontSize: 12, margin: 6, fontFamily: FONT, formatter: (v: number) => String(v) },
          splitLine: { show: false },
          name: "Rest−frame wavelength (Å)", nameLocation: "middle", nameGap: 25,
          nameTextStyle: { color: "#000", fontSize: 12, fontFamily: FONT },
        },
        {
          type: "value", min: 3000, max: 8000, interval: 1000, position: "top",
          axisLine: { show: true, lineStyle: { color: "#000", width: 1 } },
          axisTick: { show: true, inside: true, length: 4, lineStyle: { color: "#000" } },
          axisLabel: { show: false }, splitLine: { show: false },
        },
      ],
      yAxis: [
        {
          type: "log", logBase: 10, min: 0.1, max: 12, position: "left",
          axisLine: { show: true, lineStyle: { color: "#000", width: 1 } },
          axisTick: { show: false },
          axisLabel: {
            color: "#000", fontSize: 12, margin: 9, fontFamily: FONT, showMaxLabel: false,
            formatter: (v: number) => {
              for (let k = 0; k < yMajorTicks.length; k++) {
                if (Math.abs(Math.log10(v) - Math.log10(yMajorTicks[k])) < 1e-6) return yMajorLabels[k];
              }
              return "";
            },
          },
          splitLine: { show: false },
        },
        {
          type: "log", logBase: 10, min: 0.1, max: 12, position: "right",
          axisLine: { show: true, lineStyle: { color: "#000", width: 1 } },
          axisTick: { show: false }, axisLabel: { show: false }, splitLine: { show: false },
        },
      ],
      series: names.map((n, i) => ({
        name: n, type: "line", xAxisIndex: 0, yAxisIndex: 0, data: datasets[i],
        symbol: "none", showSymbol: false, clip: true, silent: true,
        lineStyle: { color: colors[i], width: widths[i], type: dashes[i] },
        itemStyle: { color: colors[i] },
      })),
    };
    chart.setOption(option);

    // tick marks on y axes (major and minor), placed via the axis scale
    const xl = chart.convertToPixel({ xAxisIndex: 0 }, xTicks[0]) as number;
    const xr = chart.convertToPixel({ xAxisIndex: 0 }, xTicks[xTicks.length - 1]) as number;
    const g: any[] = [];
    const addTick = (v: number, len: number) => {
      const y = Math.round(chart.convertToPixel({ yAxisIndex: 0 }, v) as number) + 0.5;
      g.push({ type: "line", shape: { x1: xl, y1: y, x2: xl + len, y2: y }, style: { stroke: "#000", lineWidth: 1 }, silent: true, z: 100 });
      g.push({ type: "line", shape: { x1: xr, y1: y, x2: xr - len, y2: y }, style: { stroke: "#000", lineWidth: 1 }, silent: true, z: 100 });
    };
    yMajorTicks.forEach((v) => addTick(v, 5));
    yMinorTicks.forEach((v) => addTick(v, 2.5));

    // key (legend) in gnuplot style: right-aligned titles with line samples
    const keyTextRight = 621;
    const keySampleX1 = 628;
    const keySampleX2 = 641;
    const keyTop = 21;
    const keyStep = 12.09;
    names.forEach((n, i) => {
      const y = Math.round(keyTop + i * keyStep) + 0.5;
      g.push({
        type: "text", x: keyTextRight, y, silent: true,
        style: { text: n, align: "right", verticalAlign: "middle", fontSize: 12, fontFamily: FONT, fill: "#000" },
      });
      g.push({
        type: "line", silent: true,
        shape: { x1: keySampleX1, y1: y, x2: keySampleX2, y2: y },
        style: { stroke: colors[i], lineWidth: legendWidths[i], lineDash: Array.isArray(dashes[i]) ? dashes[i] : null },
      });
    });

    g.push({
      type: "text", x: 12, y: 214, rotation: Math.PI / 2, silent: true,
      style: {
        text: "{a|Scaled λ}{sup|2}{a| F}{sub|λ}",
        align: "center", verticalAlign: "middle", fill: "#000",
        rich: {
          a: { fontSize: 12, lineHeight: 18, fontFamily: FONT, fill: "#000" },
          sup: { fontSize: 8, lineHeight: 10, verticalAlign: "top", fontFamily: FONT, fill: "#000" },
          sub: { fontSize: 8, lineHeight: 10, verticalAlign: "bottom", fontFamily: FONT, fill: "#000" },
        },
      },
    });
    chart.setOption({ graphic: g });

    return () => chart.dispose();
  }, []);
  return <div ref={ref} style={{ position: "absolute", left: 0, top: 0, width: 654, height: 458 }} />;
}
